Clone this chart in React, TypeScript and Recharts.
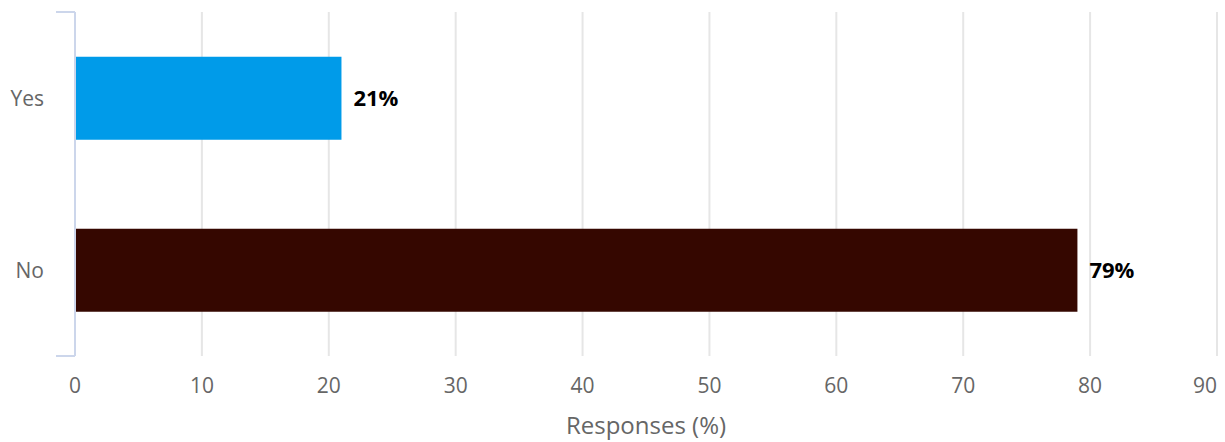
import React from 'react';
import { BarChart, Bar, XAxis, YAxis, CartesianGrid, Cell, LabelList } from 'recharts';

const categories = ['Yes', 'No'];
const responses = [21, 79];
const barColors = ['#009be9', '#350700'];
const xTicks = [0, 10, 20, 30, 40, 50, 60, 70, 80, 90];
const xAxisTitle = 'Responses (%)';

const data = categories.map((name, i) => ({ name, value: responses[i] }));
const frameTicks = categories.map((_, i) => i).concat(categories.length);

const FONT = '"Open Sans", "Liberation Sans", Arial, sans-serif';
const LABEL_COLOR = '#666666';

const XTick = (props: any) => {
  const { x, y, payload } = props;
  const last = payload.value === xTicks[xTicks.length - 1];
  return (
    <text
      x={x}
      y={y}
      dy="0.71em"
      textAnchor={last ? 'end' : 'middle'}
      fill={LABEL_COLOR}
      fontSize={21}
      fontFamily={FONT}
    >
      {payload.value}
    </text>
  );
};

export default function App() {
  return (
    <div style={{ position: 'absolute', left: 0, top: 0, background: '#fff' }}>
      <BarChart
        width={1225}
        height={442}
        data={data}
        layout="vertical"
        margin={{ top: 12, right: 8, bottom: 0, left: 0 }}
        barCategoryGap="26%"
      >
        <CartesianGrid
          horizontal={false}
          stroke="#e6e6e6"
          strokeWidth={2}
          yAxisId="frame"
        />
        <XAxis
          type="number"
          domain={[0, 90]}
          ticks={xTicks}
          axisLine={false}
          tickLine={false}
          tickSize={6}
          tickMargin={16}
          height={86}
          tick={<XTick />}
          label={{
            value: xAxisTitle,
            position: 'insideBottom',
            offset: 8,
            fill: LABEL_COLOR,
            fontSize: 24,
            fontFamily: FONT,
          }}
        />
        <YAxis yAxisId="cat" type="category" dataKey="name" hide width={0} />
        <YAxis
          yAxisId="frame"
          type="number"
          domain={[0, categories.length]}
          ticks={frameTicks}
          width={75}
          tickSize={19}
          tickFormatter={() => ''}
          axisLine={{ stroke: '#ccd6eb', strokeWidth: 2 }}
          tickLine={{ stroke: '#ccd6eb', strokeWidth: 2 }}
        />
        <Bar dataKey="value" yAxisId="cat" isAnimationActive={false}>
          {data.map((d, i) => (
            <Cell key={d.name} fill={barColors[i]} />
          ))}
          <LabelList
            dataKey="name"
            position="left"
            offset={31}
            fill={LABEL_COLOR}
            fontSize={21}
            fontFamily={FONT}
          />
          <LabelList
            dataKey="value"
            position="right"
            offset={12}
            formatter={(v: any) => `${v}%`}
            fill="#000"
            fontSize={22}
            fontWeight="bold"
            fontFamily={FONT}
          />
        </Bar>
      </BarChart>
    </div>
  );
}
